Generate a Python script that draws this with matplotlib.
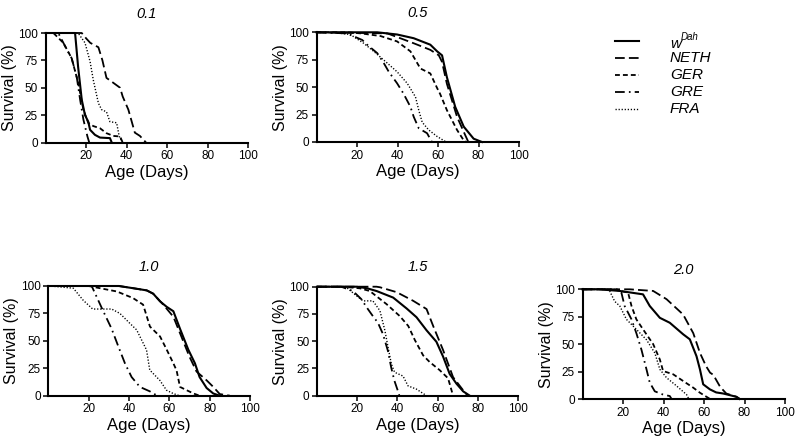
import matplotlib
matplotlib.use('Agg')
import matplotlib.pyplot as plt
from matplotlib.lines import Line2D

plt.rcParams['font.family'] = ['Liberation Sans', 'DejaVu Sans']
plt.rcParams['lines.scale_dashes'] = False

# ---------------- data (days, survival %) ----------------
DOSES = ['0.1', '0.5', '1.0', '1.5', '2.0']
STRAINS = ['wDah', 'NETH', 'GER', 'GRE', 'FRA']
X_TICKS = [20, 40, 60, 80, 100]
Y_TICKS = [0, 25, 50, 75, 100]

# dose 0.1
d01_wdah_days = [0, 14.5, 16, 17.8, 19.4, 21, 21.9, 24.3, 26.8, 31.7, 32.6]
d01_wdah_surv = [100, 100, 69, 39, 25, 19, 11.6, 7, 4.5, 4, 0]
d01_neth_days = [0, 17.8, 20, 22, 26, 28, 30, 33, 36.7, 38, 40.8, 44, 46.5, 49.5]
d01_neth_surv = [100, 100, 95, 91, 87, 75, 59, 55, 50, 42, 30, 9, 6, 0]
d01_ger_days = [0, 3.8, 8.7, 12.8, 16.1, 18.6, 21, 23.5, 26.8, 30, 33.4, 36.7, 38]
d01_ger_surv = [100, 100, 91, 77, 54, 30, 18, 15, 13, 8.5, 6, 5.5, 0]
d01_gre_days = [0, 6.2, 10.4, 12.8, 15.3, 17, 18.6, 20.6, 21.5]
d01_gre_surv = [100, 100, 85, 77, 60, 39, 21, 5.5, 0]
d01_fra_days = [0, 16, 19.4, 21.9, 23.5, 26, 27.6, 30, 31.7, 35, 36.3, 38]
d01_fra_surv = [100, 100, 91, 74, 57, 36, 30, 28, 19, 18, 5.5, 0]

# dose 0.5
d05_wdah_days = [0, 30, 39.8, 48, 56.2, 59.6, 62, 64.4, 68.5, 72.7, 77.6, 81.7]
d05_wdah_surv = [100, 100, 98, 94.6, 88.7, 82.6, 79, 59, 32, 14, 3, 0]
d05_neth_days = [0, 35, 48, 56.2, 60.4, 62, 64.4, 69.4, 73.5, 75]
d05_neth_surv = [100, 99, 90, 84, 79, 73, 53, 23, 6, 0]
d05_ger_days = [0, 15, 22, 31.6, 39.8, 46.4, 51.3, 56.2, 59.6, 61, 64.4, 69.4, 72.7, 74]
d05_ger_surv = [100, 100, 99, 96.6, 91.7, 82.6, 67, 62.5, 49, 44, 29, 11, 1.5, 0]
d05_gre_days = [0, 15, 22.6, 25, 30, 33.2, 35.7, 39.8, 43, 46.4, 48, 50.5, 54.6, 57]
d05_gre_surv = [100, 99, 93, 88.7, 81, 72, 64, 53.5, 44, 32, 23, 12.5, 8, 0]
d05_fra_days = [0, 10, 16.7, 23.3, 28.3, 34.9, 39.8, 44.8, 48.9, 50.5, 52.2, 55.4, 59.6, 64]
d05_fra_surv = [100, 99.5, 98, 90, 82.6, 72, 64, 53.5, 41, 29, 18, 11, 5, 0]

# dose 1.0
d10_wdah_days = [0, 35, 42, 48.8, 52, 55.4, 58.7, 62, 65.3, 69.4, 72.7, 75, 78.5, 81.8, 85]
d10_wdah_surv = [100, 100, 98, 96, 93, 86, 81, 77, 61, 42, 29.5, 17, 7, 2, 0]
d10_neth_days = [0, 35, 42, 48.8, 52, 57, 62, 65.3, 70, 73.5, 78.5, 81.8, 85, 90]
d10_neth_surv = [100, 100, 98, 96, 93, 83, 72, 57, 35.5, 22, 14, 8, 1.5, 0]
d10_ger_days = [0, 20, 25.6, 34, 42, 47, 50.4, 55.4, 58.7, 62, 63.6, 65.3, 68.6, 72, 75]
d10_ger_surv = [100, 100, 98, 95, 89, 83, 63, 54, 42, 29.5, 23, 8, 5, 2, 0]
d10_gre_days = [0, 21.5, 24, 27, 31.4, 34.7, 38, 41.3, 45.4, 50.3, 54]
d10_gre_surv = [100, 100, 90, 78, 61, 45, 29.5, 17, 8, 4, 0]
d10_fra_days = [0, 4, 12.4, 17.3, 22, 31.4, 35.5, 40.4, 43.8, 48.7, 50.3, 55.3, 58.6, 61.9, 65]
d10_fra_surv = [100, 99.5, 98, 87, 79, 79, 75, 66, 60, 41.7, 23.4, 14, 5, 2, 0]

# dose 1.5
d15_wdah_days = [0, 20, 25, 29.7, 37.9, 44.6, 49.5, 54.5, 59.4, 62.7, 66, 69.4, 72.7, 76]
d15_wdah_surv = [100, 100, 98.5, 96, 90, 80, 72, 60, 49.5, 36, 20, 11, 4, 0]
d15_neth_days = [0, 29.6, 31.3, 39.6, 47.9, 54.5, 58, 62.7, 67.7, 72.7, 75]
d15_neth_surv = [100, 100, 99.5, 95, 87, 79.5, 63, 42, 17, 5, 0]
d15_ger_days = [0, 13, 21.4, 26.3, 34.6, 41.2, 45.4, 48.7, 52.8, 56, 61, 65.2, 67.7]
d15_ger_surv = [100, 100, 98.5, 96, 84, 73, 64, 51, 37, 31, 23.5, 16, 0]
d15_gre_days = [0, 12, 17.9, 22, 25.3, 27.8, 30.3, 32.8, 35.3, 36.9, 38.5, 40.2, 41]
d15_gre_surv = [100, 100, 96, 88.7, 79.5, 73, 67, 56.6, 41, 26, 13.8, 4.6, 0]
d15_fra_days = [0, 12, 14.6, 19.6, 22.9, 27.8, 31.3, 33.8, 35.4, 37, 38.6, 42.8, 45.3, 49.5, 54.5]
d15_fra_surv = [100, 100, 99.5, 91.7, 87, 87, 78, 59.6, 44, 29, 21.5, 18, 9, 6, 0]

# dose 2.0
d20_wdah_days = [0, 8, 18.4, 29.9, 33.2, 38.2, 43.1, 49.7, 53, 56.3, 58, 59.6, 62.9, 66, 69.5, 76, 77.5]
d20_wdah_surv = [100, 100, 98.5, 95.4, 84.8, 74, 69.5, 59, 54.4, 39, 27, 13.4, 8.8, 6, 5, 2, 0]
d20_neth_days = [0, 23.3, 34.9, 41.5, 49.7, 54.7, 58, 61, 63, 64.6, 68, 71, 76, 77.8]
d20_neth_surv = [100, 100, 98.5, 91, 77, 60, 42, 30, 24, 22, 11, 5, 2, 0]
d20_ger_days = [0, 15, 22.5, 24.2, 26.6, 29.9, 34.9, 38.2, 39.8, 44.8, 49.7, 54.7, 58, 63]
d20_ger_surv = [100, 100, 97, 84.8, 72.6, 63.5, 50, 36, 25.5, 22.5, 16.4, 10.3, 5.7, 0]
d20_gre_days = [0, 17, 19.2, 20.8, 24.2, 26.6, 29.1, 31.6, 33.2, 35.7, 39.8, 43.1, 44]
d20_gre_surv = [100, 100, 97, 84.8, 72.6, 60, 45, 27, 15, 7, 4, 2.7, 0]
d20_fra_days = [0, 12, 13.4, 15.9, 18.4, 21.7, 26.6, 31.6, 35.7, 38.2, 41.5, 46.4, 51.4, 52.5]
d20_fra_surv = [100, 100, 98.5, 89, 84.8, 72.6, 63.5, 54, 42, 27, 19.4, 12, 4, 0]

CURVES = {
    '0.1': [(d01_wdah_days, d01_wdah_surv), (d01_neth_days, d01_neth_surv), (d01_ger_days, d01_ger_surv),
            (d01_gre_days, d01_gre_surv), (d01_fra_days, d01_fra_surv)],
    '0.5': [(d05_wdah_days, d05_wdah_surv), (d05_neth_days, d05_neth_surv), (d05_ger_days, d05_ger_surv),
            (d05_gre_days, d05_gre_surv), (d05_fra_days, d05_fra_surv)],
    '1.0': [(d10_wdah_days, d10_wdah_surv), (d10_neth_days, d10_neth_surv), (d10_ger_days, d10_ger_surv),
            (d10_gre_days, d10_gre_surv), (d10_fra_days, d10_fra_surv)],
    '1.5': [(d15_wdah_days, d15_wdah_surv), (d15_neth_days, d15_neth_surv), (d15_ger_days, d15_ger_surv),
            (d15_gre_days, d15_gre_surv), (d15_fra_days, d15_fra_surv)],
    '2.0': [(d20_wdah_days, d20_wdah_surv), (d20_neth_days, d20_neth_surv), (d20_ger_days, d20_ger_surv),
            (d20_gre_days, d20_gre_surv), (d20_fra_days, d20_fra_surv)],
}

# ---------------- styles ----------------
STYLES = [
    dict(linestyle='-', linewidth=1.5),
    dict(linestyle=(0, (7, 3)), linewidth=1.3),
    dict(linestyle=(0, (3.5, 2.2)), linewidth=1.3),
    dict(linestyle=(0, (7, 3, 1.2, 3)), linewidth=1.3),
    dict(linestyle=(0, (0.9, 1.3)), linewidth=1.0),
]

W, H = 797, 443
fig = plt.figure(figsize=(W / 100, H / 100), dpi=100)


def px_axes(left, right, bottom, top):
    return [left / W, 1 - bottom / H, (right - left) / W, (bottom - top) / H]


POS = {
    '0.1': px_axes(45.7, 248.3, 142.5, 33),
    '0.5': px_axes(316.5, 519, 142, 32.3),
    '1.0': px_axes(48.3, 250, 395.7, 286),
    '1.5': px_axes(317, 518, 395.7, 286.7),
    '2.0': px_axes(582.5, 785, 399, 289.3),
}

for dose in DOSES:
    ax = fig.add_axes(POS[dose])
    for (days, surv), st in zip(CURVES[dose], STYLES):
        ax.plot(days, surv, color='black', clip_on=False, **st)
    ax.set_xlim(0, 100)
    ax.set_ylim(0, 100)
    ax.set_xticks(X_TICKS)
    ax.set_yticks(Y_TICKS)
    for s in ['top', 'right']:
        ax.spines[s].set_visible(False)
    for s in ['left', 'bottom']:
        ax.spines[s].set_linewidth(1.5)
    ax.tick_params(direction='out', length=3.5, width=1.1, labelsize=8.5, pad=2)
    ax.set_xlabel('Age (Days)', fontsize=12, labelpad=2)
    ax.set_ylabel('Survival (%)', fontsize=11.5, labelpad=1)
    ax.set_title(dose, fontsize=10.5, style='italic', pad=11)

# ---------------- legend ----------------
LEG_ROWS_Y = [41, 58, 75, 92, 109]
LEG_X0, LEG_X1, LEG_TX = 615, 639, 670
for i, (name, st, ly) in enumerate(zip(STRAINS, STYLES, LEG_ROWS_Y)):
    fig.add_artist(Line2D([LEG_X0 / W, LEG_X1 / W], [1 - ly / H, 1 - ly / H],
                          transform=fig.transFigure, color='black', **st))
    if name == 'wDah':
        fig.text(LEG_TX / W, 1 - (ly + 3) / H, 'w', fontsize=11, style='italic', va='center', ha='left')
        fig.text((LEG_TX + 11) / W, 1 - (ly - 4) / H, 'Dah', fontsize=7, style='italic', va='center', ha='left')
    else:
        fig.text(LEG_TX / W, 1 - ly / H, name, fontsize=11, style='italic', va='center', ha='left')

fig.savefig('out.png', dpi=100)
